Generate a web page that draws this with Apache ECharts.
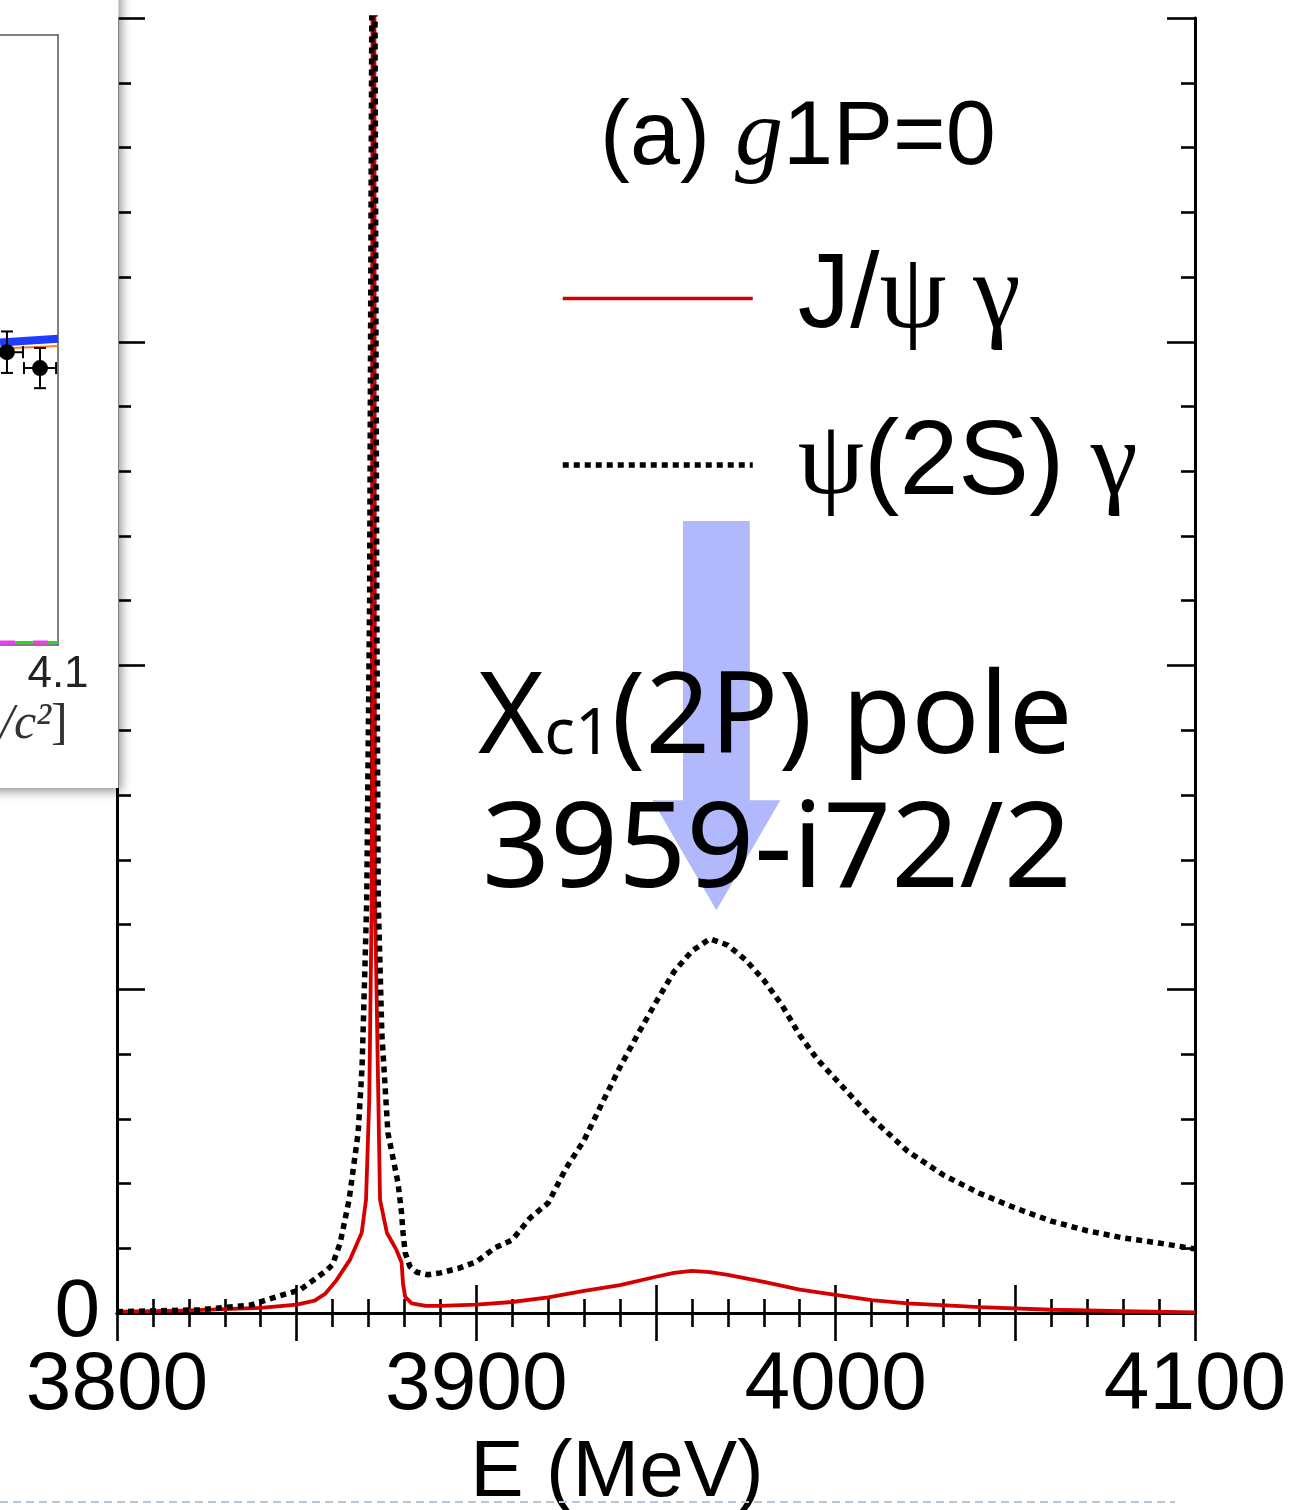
<!DOCTYPE html>
<html>
<head>
<meta charset="utf-8">
<script src="https://cdn.jsdelivr.net/npm/echarts@6/dist/echarts.min.js"></script>
<style>
  html, body { margin: 0; padding: 0; background: #fff; }
  #chart { width: 1297px; height: 1510px; }
</style>
</head>
<body>
<div id="chart"></div>
<script>
// J/psi gamma line shape (solid red)
const jpsiE = [3800, 3810, 3820, 3830, 3840, 3850, 3855, 3858, 3861, 3864.8, 3868.1, 3869.3, 3870.2, 3870.9,
  3871.4, 3871.8, 3873.2, 3875.1, 3877.8, 3879.2, 3879.6, 3880.2, 3882, 3886, 3890, 3900, 3910, 3920, 3930,
  3940, 3950, 3955, 3960, 3965, 3970, 3980, 3990, 4000, 4010, 4020, 4040, 4060, 4080, 4100];
const jpsiVal = [0.02, 0.03, 0.04, 0.06, 0.08, 0.13, 0.19, 0.3, 0.5, 0.82, 1.24, 1.75, 3.3, 6.4,
  40, 6.4, 1.75, 1.24, 0.97, 0.78, 0.45, 0.25, 0.15, 0.11, 0.11, 0.13, 0.17, 0.24, 0.34,
  0.43, 0.56, 0.62, 0.65, 0.63, 0.59, 0.48, 0.36, 0.28, 0.2, 0.15, 0.09, 0.05, 0.03, 0.01];

// psi(2S) gamma line shape (black dotted)
const psiE = [3800, 3815, 3823, 3837, 3845, 3851, 3855, 3858.4, 3860, 3862.1, 3864.6, 3867.1, 3868.2, 3869,
  3869.5, 3870.3, 3870.9, 3871.3, 3871.8, 3872.3, 3872.7, 3873.7, 3875.4, 3878.2, 3879.2, 3879.6, 3880.2,
  3881.5, 3883.4, 3886.6, 3890, 3895, 3900, 3905, 3910, 3915, 3920, 3925, 3930, 3935, 3940, 3945, 3950,
  3955, 3960, 3965, 3970, 3975, 3980, 3985, 3990, 3995, 4000, 4010, 4020, 4030, 4040, 4050, 4060, 4070,
  4080, 4090, 4100];
const psiVal = [0.02, 0.04, 0.05, 0.12, 0.26, 0.36, 0.52, 0.66, 0.75, 1.08, 1.75, 2.78, 3.8, 5.34,
  6.38, 11, 20, 40, 20, 11, 6.38, 4.32, 2.78, 2.01, 1.54, 1.24, 0.93,
  0.72, 0.63, 0.59, 0.62, 0.69, 0.79, 1.0, 1.13, 1.47, 1.7, 2.24, 2.67, 3.24, 3.8, 4.31, 4.8,
  5.27, 5.59, 5.78, 5.68, 5.45, 5.14, 4.76, 4.29, 3.91, 3.61, 3.01, 2.5, 2.13, 1.85, 1.62, 1.42, 1.27,
  1.16, 1.08, 0.99];

const seriesNames = ['J/ψ γ', 'ψ(2S) γ'];

// pole arrow: energy, tip, head base, tail, shaft half width, head half width
const arrowSpec = [3966.8, 6.22, 7.92, 12.23, 9.3, 17.8];

// inset (clipped piece of another plot) data
const insetX = [4.0472, 4.0814];
const insetY = [0.48, 0.454];
const insetYErr = [0.034, 0.033];
const insetXErr = [0.0166, 0.0166];
const insetBandX = [4.04, 4.1];
const insetBandY = [0.496, 0.502];
const insetOrangeY = [0.486, 0.49];
const insetBaseY = [0.004, 0.004];

const zip = (a, b) => a.map((v, i) => [v, b[i]]);

const chart = echarts.init(document.getElementById('chart'), null, { renderer: 'canvas' });

const axisBlack = { lineStyle: { color: '#000', width: 3 } };
const tickMajor = { show: true, inside: true, length: 28, lineStyle: { color: '#000', width: 2.6 } };
const tickMinor = { show: true, splitNumber: 5, length: 14, lineStyle: { color: '#000', width: 2.6 } };
const insetEdge = { show: true, lineStyle: { color: '#555', width: 1.5 } };
const noSymbol = { color: 'rgba(0,0,0,0)', borderColor: 'rgba(0,0,0,0)', borderWidth: 0, opacity: 0 };

const option = {
  animation: false,
  backgroundColor: '#fff',
  title: {
    text: '{a|(a) }{g|g}{a|1P=0}',
    left: 600,
    top: 91,
    padding: 0,
    textStyle: {
      color: '#000',
      fontWeight: 'normal',
      rich: {
        a: { fontFamily: 'Liberation Sans', fontSize: 90, fontWeight: 'normal', color: '#000' },
        g: { fontFamily: 'Liberation Serif', fontStyle: 'italic', fontWeight: 'normal', fontSize: 96, color: '#000' }
      }
    }
  },
  legend: {
    orient: 'vertical',
    left: 560,
    top: 245,
    padding: 0,
    itemGap: 60,
    itemWidth: 190,
    itemHeight: 20,
    selectedMode: false,
    data: [
      { name: seriesNames[0], itemStyle: noSymbol, lineStyle: { color: '#d40000', width: 3.5, type: 'solid' } },
      { name: seriesNames[1], itemStyle: noSymbol, lineStyle: { color: '#000', width: 5.5, type: [6, 5] } }
    ],
    formatter: function (name) {
      if (name === seriesNames[0]) return '{sp| }{s|J/}{g|ψ γ}';
      return '{sp| }{g2|ψ}{s2|(2S)}{g2| γ}';
    },
    textStyle: {
      color: '#000',
      rich: {
        sp: { width: 40, fontSize: 20 },
        s: { fontFamily: 'Liberation Sans', fontSize: 105, color: '#000' },
        g: { fontFamily: 'Liberation Serif', fontSize: 107, color: '#000' },
        s2: { fontFamily: 'Liberation Sans', fontSize: 106, color: '#000' },
        g2: { fontFamily: 'Liberation Serif', fontSize: 106, color: '#000' }
      }
    }
  },
  grid: [
    { left: 117, right: 102, top: 18, bottom: 197, containLabel: false, outerBoundsMode: 'none' },
    { left: 0, top: 35, width: 58, height: 610, show: false, z: 60, outerBoundsMode: 'none' }
  ],
  xAxis: [
    {
      type: 'value', gridIndex: 0, position: 'bottom', min: 3800, max: 4100, interval: 50,
      axisLine: axisBlack, axisTick: tickMajor, minorTick: tickMinor, splitLine: { show: false },
      axisLabel: {
        margin: 32, color: '#000', fontFamily: 'Liberation Sans', fontSize: 82,
        formatter: v => (v % 100 === 0 ? String(v) : '')
      },
      name: 'E (MeV)', nameLocation: 'middle', nameGap: 121,
      nameTextStyle: { color: '#000', fontFamily: 'Liberation Sans', fontSize: 80, padding: [0, 78, 0, 0] }
    },
    {
      type: 'value', gridIndex: 0, position: 'top', min: 3800, max: 4100, interval: 50,
      axisLine: axisBlack, axisTick: tickMajor, minorTick: tickMinor, splitLine: { show: false },
      axisLabel: { show: false }
    },
    {
      type: 'value', gridIndex: 1, position: 'bottom', min: 4.04, max: 4.1, interval: 0.02, z: 61,
      axisLine: insetEdge, axisTick: { show: false }, splitLine: { show: false },
      axisLabel: {
        margin: 8, color: '#222', fontFamily: 'Liberation Sans', fontSize: 44, showMaxLabel: true,
        formatter: v => (Math.abs(v - 4.1) < 1e-6 ? '4.1' : '')
      }
    },
    {
      type: 'value', gridIndex: 1, position: 'top', min: 4.04, max: 4.1, z: 61,
      axisLine: insetEdge, axisTick: { show: false }, splitLine: { show: false }, axisLabel: { show: false }
    }
  ],
  yAxis: [
    {
      type: 'value', gridIndex: 0, position: 'left', min: 0, max: 20, interval: 5,
      axisLine: axisBlack, axisTick: tickMajor, minorTick: tickMinor, splitLine: { show: false },
      axisLabel: {
        margin: 17, color: '#000', fontFamily: 'Liberation Sans', fontSize: 82, padding: [42, 0, 0, 0],
        formatter: v => (v === 0 ? '0' : '')
      }
    },
    {
      type: 'value', gridIndex: 0, position: 'right', min: 0, max: 20, interval: 5,
      axisLine: axisBlack, axisTick: tickMajor, minorTick: tickMinor, splitLine: { show: false },
      axisLabel: { show: false }
    },
    {
      type: 'value', gridIndex: 1, position: 'right', min: 0, max: 1, z: 61,
      axisLine: insetEdge, axisTick: { show: false }, splitLine: { show: false }, axisLabel: { show: false }
    }
  ],
  series: [
    {
      type: 'custom', name: 'pole', xAxisIndex: 0, yAxisIndex: 0, z: 1, silent: true,
      data: [arrowSpec],
      renderItem: function (params, api) {
        const e = api.value(0), tip = api.value(1), head = api.value(2), tail = api.value(3);
        const sh = api.value(4), hh = api.value(5);
        const pts = [[e - sh, tail], [e + sh, tail], [e + sh, head], [e + hh, head], [e, tip],
          [e - hh, head], [e - sh, head]].map(p => api.coord(p));
        return { type: 'polygon', shape: { points: pts }, style: { fill: 'rgb(178,184,252)' } };
      }
    },
    {
      name: seriesNames[0], type: 'line', xAxisIndex: 0, yAxisIndex: 0, z: 3,
      data: zip(jpsiE, jpsiVal), showSymbol: false, symbol: 'none', clip: true,
      lineStyle: { color: '#d40000', width: 3.8 }, itemStyle: { color: '#d40000' }
    },
    {
      name: seriesNames[1], type: 'line', xAxisIndex: 0, yAxisIndex: 0, z: 4,
      data: zip(psiE, psiVal), showSymbol: false, symbol: 'none', clip: true,
      lineStyle: { color: '#000', width: 5.5, type: [6, 5] }, itemStyle: { color: '#000' }
    },
    // inset curves
    {
      type: 'line', xAxisIndex: 2, yAxisIndex: 2, z: 62, symbol: 'none', silent: true,
      data: zip(insetBandX, insetOrangeY), lineStyle: { color: '#ff7a1a', width: 2 }
    },
    {
      type: 'line', xAxisIndex: 2, yAxisIndex: 2, z: 63, symbol: 'none', silent: true,
      data: zip(insetBandX, insetBandY), lineStyle: { color: '#1f3dff', width: 8 }
    },
    {
      type: 'line', xAxisIndex: 2, yAxisIndex: 2, z: 62, symbol: 'none', silent: true,
      data: zip(insetBandX, insetBaseY), lineStyle: { color: '#22dd22', width: 3 }
    },
    {
      type: 'line', xAxisIndex: 2, yAxisIndex: 2, z: 63, symbol: 'none', silent: true,
      data: zip(insetBandX, insetBaseY), lineStyle: { color: '#f03cf0', width: 4, type: [15, 18] }
    },
    {
      type: 'custom', xAxisIndex: 2, yAxisIndex: 2, z: 64, silent: true,
      data: insetX.map((x, i) => [x, insetY[i], insetYErr[i], insetXErr[i]]),
      renderItem: function (params, api) {
        const x = api.value(0), y = api.value(1), ey = api.value(2), ex = api.value(3);
        const c = api.coord([x, y]);
        const t = api.coord([x, y + ey]), b = api.coord([x, y - ey]);
        const l = api.coord([x - ex, y]), r = api.coord([x + ex, y]);
        const st = { stroke: '#000', lineWidth: 2 };
        const cap = 6;
        return {
          type: 'group', children: [
            { type: 'line', shape: { x1: c[0], y1: t[1], x2: c[0], y2: b[1] }, style: st },
            { type: 'line', shape: { x1: c[0] - cap, y1: t[1], x2: c[0] + cap, y2: t[1] }, style: st },
            { type: 'line', shape: { x1: c[0] - cap, y1: b[1], x2: c[0] + cap, y2: b[1] }, style: st },
            { type: 'line', shape: { x1: l[0], y1: c[1], x2: r[0], y2: c[1] }, style: st },
            { type: 'line', shape: { x1: l[0], y1: c[1] - cap, x2: l[0], y2: c[1] + cap }, style: st },
            { type: 'line', shape: { x1: r[0], y1: c[1] - cap, x2: r[0], y2: c[1] + cap }, style: st },
            { type: 'circle', shape: { cx: c[0], cy: c[1], r: 8 }, style: { fill: '#000' } }
          ]
        };
      }
    }
  ],
  graphic: [
    {
      type: 'rect', z: 50, silent: true,
      shape: { x: -30, y: -30, width: 148.5, height: 818 },
      style: { fill: '#fff', shadowBlur: 10, shadowColor: 'rgba(0,0,0,0.45)', shadowOffsetX: 2, shadowOffsetY: 3 }
    },
    {
      type: 'text', z: 65, silent: true, x: 0, y: 700,
      style: {
        text: '{i|/c²}{n|]}',
        rich: {
          i: { fontFamily: 'Liberation Serif', fontStyle: 'italic', fontSize: 50, fill: '#333' },
          n: { fontFamily: 'Liberation Serif', fontSize: 50, fill: '#333' }
        }
      }
    },
    {
      type: 'text', z: 10, silent: true, x: 478, y: 721,
      style: {
        text: '{X|X}{c|c1}{t|(2P) pole}',
        verticalAlign: 'middle',
        rich: {
          X: { fontFamily: 'Noto Sans', fontSize: 113, fill: '#000' },
          c: { fontFamily: 'Noto Sans', fontSize: 64, fill: '#000', verticalAlign: 'bottom', padding: [0, 0, 10, 0] },
          t: { fontFamily: 'Noto Sans', fontSize: 113, fill: '#000' }
        }
      }
    },
    {
      type: 'text', z: 10, silent: true, x: 482, y: 853,
      style: {
        text: '3959-i72/2', fontFamily: 'Noto Sans', fontSize: 119, fill: '#000', verticalAlign: 'middle'
      }
    },
    {
      type: 'line', z: 10, silent: true,
      shape: { x1: 0, y1: 1502, x2: 1175, y2: 1502 },
      style: { stroke: '#b5c7d8', lineWidth: 2, lineDash: [8, 5] }
    }
  ]
};

chart.setOption(option);
window.addEventListener('resize', chart.resize);
</script>
</body>
</html>
